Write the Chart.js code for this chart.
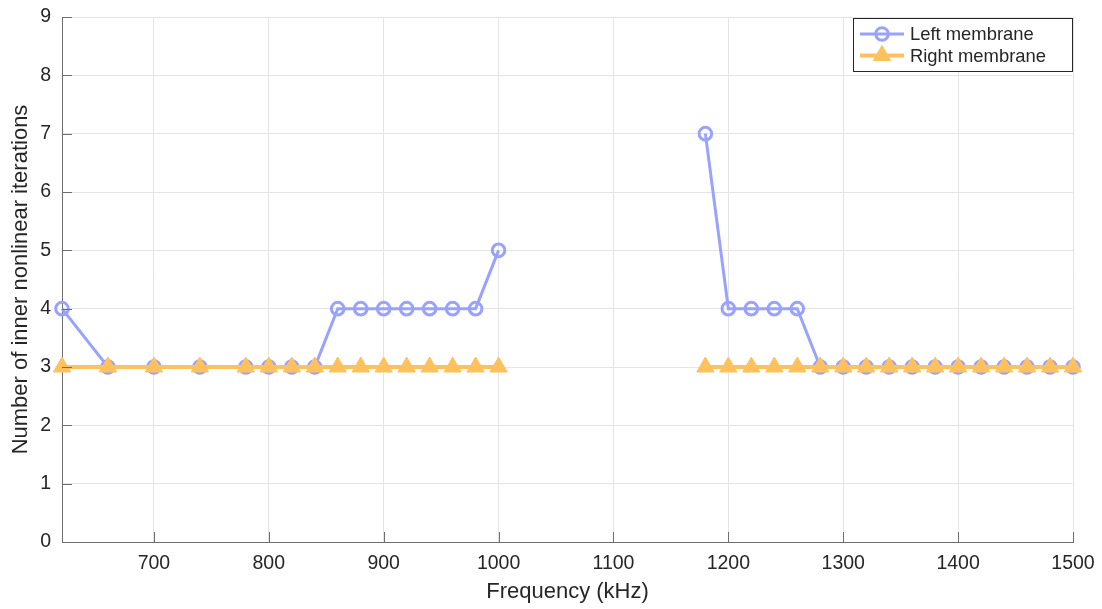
<!DOCTYPE html>
<html>
<head>
<meta charset="utf-8">
<script src="https://cdn.jsdelivr.net/npm/chart.js@4/dist/chart.umd.min.js"></script>
<style>
  html, body { margin: 0; padding: 0; background: #fff; }
  #wrap { width: 1102px; height: 609px; }
</style>
</head>
<body>
<div id="wrap"><canvas id="c" width="1102" height="609"></canvas></div>
<script>
// Frequencies (kHz) at which the solver was run
const frequencies = [620, 660, 700, 740, 780, 800, 820, 840, 860, 880, 900, 920, 940, 960, 980, 1000,
                     1180, 1200, 1220, 1240, 1260, 1280, 1300, 1320, 1340, 1360, 1380, 1400, 1420, 1440, 1460, 1480, 1500];
// Inner nonlinear iterations per membrane
const leftMembrane  = [4, 3, 3, 3, 3, 3, 3, 3, 4, 4, 4, 4, 4, 4, 4, 5,
                       7, 4, 4, 4, 4, 3, 3, 3, 3, 3, 3, 3, 3, 3, 3, 3, 3];
const rightMembrane = [3, 3, 3, 3, 3, 3, 3, 3, 3, 3, 3, 3, 3, 3, 3, 3,
                       3, 3, 3, 3, 3, 3, 3, 3, 3, 3, 3, 3, 3, 3, 3, 3, 3];
const xTickValues = [700, 800, 900, 1000, 1100, 1200, 1300, 1400, 1500];
const seriesNames = ['Left membrane', 'Right membrane'];

const BLUE = '#98a2ff';
const ORANGE = '#ffc15c';
const TEXT = '#262626';
const AXIS = '#6e6e6e';
const GRID = '#e4e4e4';
const FONT = '"Liberation Sans", Arial, Helvetica, sans-serif';

const toPoints = vals => frequencies.map((f, i) => ({ x: f, y: vals[i] }));

// MATLAB-style inward tick marks on the left and bottom axes
const innerTicks = {
  id: 'innerTicks',
  afterDatasetsDraw(chart) {
    const { ctx, chartArea: a, scales: { x, y } } = chart;
    const len = 10;
    ctx.save();
    ctx.strokeStyle = AXIS;
    ctx.lineWidth = 1;
    ctx.beginPath();
    xTickValues.forEach(v => {
      const px = Math.round(x.getPixelForValue(v)) + 0.5;
      ctx.moveTo(px, a.bottom);
      ctx.lineTo(px, a.bottom - len);
    });
    y.ticks.forEach(t => {
      const py = Math.round(y.getPixelForValue(t.value)) + 0.5;
      ctx.moveTo(a.left, py);
      ctx.lineTo(a.left + len, py);
    });
    ctx.stroke();
    ctx.restore();
  }
};

// Boxed legend in the upper-right corner of the plot area
const boxLegend = {
  id: 'boxLegend',
  afterDraw(chart) {
    const { ctx, chartArea: a } = chart;
    const ds = chart.data.datasets;
    const right = a.right - 1, top = a.top + 1;
    const w = 219, h = 53;
    const left = right - w;
    ctx.save();
    ctx.fillStyle = '#fff';
    ctx.fillRect(left, top, w, h);
    ctx.strokeStyle = '#262626';
    ctx.lineWidth = 1;
    ctx.strokeRect(Math.round(left) + 0.5, Math.round(top) + 0.5, w, h);
    [0, 1].forEach((di, row) => {
      const d = ds[di];
      const cy = top + 16 + row * 21.5;
      const x0 = left + 7, x1 = left + 51, xm = (x0 + x1) / 2;
      ctx.strokeStyle = d.borderColor;
      ctx.lineWidth = d.borderWidth;
      ctx.beginPath();
      ctx.moveTo(x0, cy);
      ctx.lineTo(x1, cy);
      ctx.stroke();
      ctx.fillStyle = d.pointBackgroundColor;
      ctx.strokeStyle = d.pointBorderColor;
      ctx.lineWidth = d.pointBorderWidth;
      Chart.helpers.drawPoint(ctx, {
        pointStyle: d.pointStyle,
        radius: d.pointRadius,
        borderWidth: d.pointBorderWidth,
        rotation: 0
      }, xm, cy);
      ctx.fillStyle = TEXT;
      ctx.font = '18.4px ' + FONT;
      ctx.textBaseline = 'middle';
      ctx.textAlign = 'left';
      ctx.fillText(seriesNames[di], left + 57, cy + 1);
    });
    ctx.restore();
  }
};

new Chart(document.getElementById('c'), {
  type: 'line',
  data: {
    datasets: [
      {
        label: seriesNames[0],
        data: toPoints(leftMembrane),
        borderColor: BLUE,
        backgroundColor: 'rgba(0,0,0,0)',
        borderWidth: 3,
        pointStyle: 'circle',
        pointRadius: 6.3,
        pointBorderWidth: 3,
        pointBorderColor: BLUE,
        pointBackgroundColor: 'rgba(0,0,0,0)',
        spanGaps: 100,
        order: 1,
        clip: false
      },
      {
        label: seriesNames[1],
        data: toPoints(rightMembrane),
        borderColor: ORANGE,
        backgroundColor: ORANGE,
        borderWidth: 4,
        pointStyle: 'triangle',
        pointRadius: 10,
        pointBorderWidth: 1,
        pointBorderColor: ORANGE,
        pointBackgroundColor: ORANGE,
        spanGaps: 100,
        order: 0,
        clip: false
      }
    ]
  },
  options: {
    responsive: false,
    animation: false,
    events: [],
    layout: { padding: { left: 0, top: 17, right: 29, bottom: 0 } },
    plugins: { legend: { display: false }, tooltip: { enabled: false } },
    elements: { line: { tension: 0 } },
    scales: {
      x: {
        type: 'linear',
        min: 620,
        max: 1500,
        afterBuildTicks(scale) { scale.ticks = xTickValues.map(v => ({ value: v })); },
        afterFit(scale) {
          scale.height = 67;
          scale.paddingLeft = 0;
          scale.paddingRight = 0;
        },
        grid: { color: GRID, lineWidth: 1, drawTicks: false },
        border: { display: true, color: AXIS, width: 1 },
        ticks: {
          autoSkip: false,
          maxRotation: 0,
          padding: 10,
          color: TEXT,
          font: { family: FONT, size: 19.5 },
          callback: v => String(v)
        },
        title: {
          display: true,
          text: 'Frequency (kHz)',
          color: TEXT,
          font: { family: FONT, size: 22 },
          padding: { top: 0, bottom: 4 }
        }
      },
      y: {
        min: 0,
        max: 9,
        afterFit(scale) {
          scale.width = 62;
          scale.paddingTop = 0;
          scale.paddingBottom = 0;
        },
        grid: { color: GRID, lineWidth: 1, drawTicks: false },
        border: { display: true, color: AXIS, width: 1 },
        ticks: {
          stepSize: 1,
          padding: 11,
          color: TEXT,
          font: { family: FONT, size: 19.5 },
          callback: v => String(v)
        },
        title: {
          display: true,
          text: 'Number of inner nonlinear iterations',
          color: TEXT,
          font: { family: FONT, size: 22 },
          padding: { top: 8, bottom: 0 }
        }
      }
    }
  },
  plugins: [innerTicks, boxLegend]
});
</script>
</body>
</html>
